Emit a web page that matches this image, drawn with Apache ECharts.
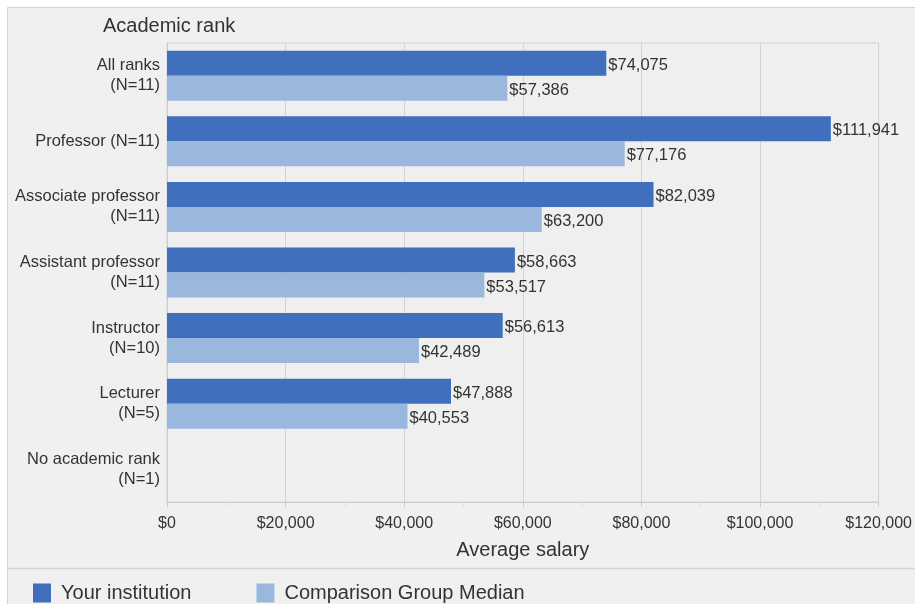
<!DOCTYPE html>
<html>
<head>
<meta charset="utf-8">
<style>
  html, body { margin: 0; padding: 0; background: #ffffff; }
  #chart { width: 915px; height: 604px; }
</style>
<script src="https://cdn.jsdelivr.net/npm/echarts@6/dist/echarts.min.js"></script>
</head>
<body>
<div id="chart"></div>
<script>
// Academic ranks, top to bottom
const ranks = [
  'All ranks\n(N=11)',
  'Professor (N=11)',
  'Associate professor\n(N=11)',
  'Assistant professor\n(N=11)',
  'Instructor\n(N=10)',
  'Lecturer\n(N=5)',
  'No academic rank\n(N=1)'
];
// Average salary, own institution
const yourInstitution = [74075, 111941, 82039, 58663, 56613, 47888, null];
// Median of the comparison group
const comparisonMedian = [57386, 77176, 63200, 53517, 42489, 40553, null];
const seriesNames = ['Your institution', 'Comparison Group Median'];
const salaryTicks = [0, 20000, 40000, 60000, 80000, 100000, 120000];

const money = v => '$' + Math.round(v).toLocaleString('en-US');
const FONT = '"Liberation Sans", Arial, sans-serif';

const valueLabel = {
  show: true, position: 'right', distance: 2, offset: [0, 2],
  color: '#333', fontSize: 16.5, fontFamily: FONT,
  formatter: p => money(p.value)
};

const chart = echarts.init(document.getElementById('chart'), null, { renderer: 'canvas' });
chart.setOption({
  animation: false,
  textStyle: { fontFamily: FONT },
  graphic: [
    {
      type: 'rect', z: -10, silent: true,
      shape: { x: 7.5, y: 7.5, width: 920, height: 610 },
      style: { fill: '#f0f0f0', stroke: '#d4d4d4', lineWidth: 1 }
    },
    {
      type: 'line', z: -9, silent: true,
      shape: { x1: 8, y1: 568.5, x2: 915, y2: 568.5 },
      style: { stroke: '#d4d4d4', lineWidth: 1.5 }
    },
    {
      type: 'text', left: 103, top: 16,
      style: { text: 'Academic rank', fill: '#333', font: '20px ' + FONT }
    }
  ],
  legend: {
    left: 28, top: 578,
    itemWidth: 18, itemHeight: 19, itemGap: 65,
    icon: 'rect',
    textStyle: { color: '#333', fontSize: 20, fontFamily: FONT, padding: [0, 0, 0, 5] },
    data: seriesNames
  },
  grid: {
    left: 167, right: 36, top: 43, bottom: 102,
    show: true, backgroundColor: '#efefef', borderColor: '#d4d4d4', borderWidth: 1
  },
  xAxis: {
    type: 'value',
    min: salaryTicks[0], max: salaryTicks[salaryTicks.length - 1], interval: 20000,
    name: 'Average salary', nameLocation: 'middle', nameGap: 38,
    nameTextStyle: { color: '#333', fontSize: 20, fontFamily: FONT },
    axisLine: { show: true, lineStyle: { color: '#cccccc' } },
    axisTick: { show: true, length: 5, lineStyle: { color: '#cccccc' } },
    minorTick: { show: true, splitNumber: 2, length: 4, lineStyle: { color: '#dddddd' } },
    axisLabel: { color: '#333', fontSize: 16, margin: 14, formatter: money },
    splitLine: { show: true, lineStyle: { color: '#d2d2d2' } }
  },
  yAxis: {
    type: 'category', inverse: true, data: ranks,
    axisLine: { show: true, lineStyle: { color: '#cccccc' } },
    axisTick: { show: false },
    axisLabel: { color: '#333', fontSize: 16.5, lineHeight: 20, margin: 7, align: 'right' },
    splitLine: { show: false }
  },
  series: [
    {
      name: seriesNames[0], type: 'bar', data: yourInstitution,
      barWidth: 25, barGap: '0%',
      itemStyle: { color: '#3f6fbd' },
      label: valueLabel
    },
    {
      name: seriesNames[1], type: 'bar', data: comparisonMedian,
      barWidth: 25, barGap: '0%',
      itemStyle: { color: '#9ab8de' },
      label: valueLabel
    }
  ]
});
</script>
</body>
</html>
